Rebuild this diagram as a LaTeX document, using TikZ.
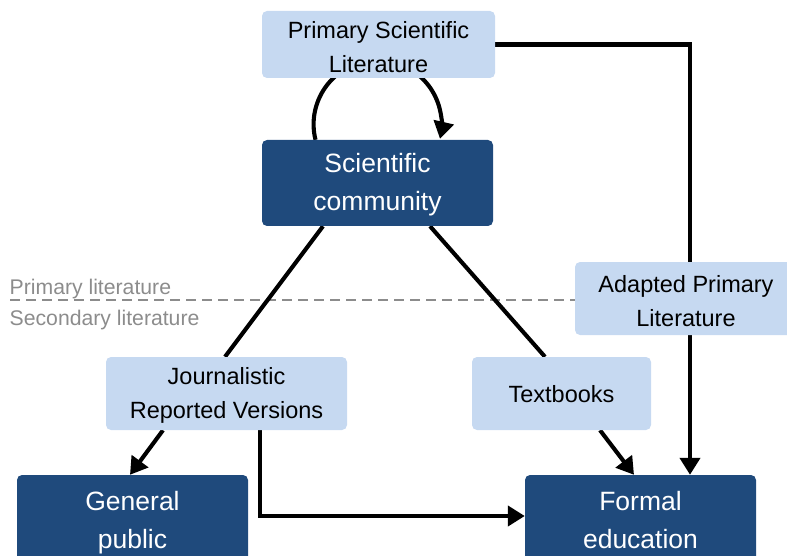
\documentclass[tikz,border=0pt]{standalone}
\usepackage{fontspec}
\setmainfont{Liberation Sans}
\usetikzlibrary{arrows.meta,backgrounds}
\definecolor{lightbox}{HTML}{C6D9F1}
\definecolor{darkbox}{HTML}{1F4A7C}
\definecolor{grayline}{HTML}{8C8C8C}
\newcommand{\topstrut}[1]{\rule{0pt}{#1pt}}
\tikzset{
  lightnode/.style={fill=lightbox, rounded corners=5pt, align=center, inner sep=0pt,
    font=\fontsize{23.5}{34}\selectfont, text=black},
  darknode/.style={fill=darkbox, rounded corners=5pt, align=center, inner sep=0pt,
    font=\fontsize{26.5}{38}\selectfont, text=white},
  conn/.style={line width=4.1pt, black},
  arr/.style={conn, -{Triangle[length=17pt,width=20pt]}},
  layerlabel/.style={text=grayline, anchor=west, inner sep=0pt, font=\fontsize{21.2}{25}\selectfont},
  divider/.style={grayline, line width=2.4pt, dash pattern=on 10pt off 6pt}
}
\begin{document}
\begin{tikzpicture}[x=1pt,y=-1pt]
\useasboundingbox (0,0) rectangle (787,556);
% boxes
\node[lightnode, minimum width=233pt, minimum height=67pt] (psl) at (378.5,44.5) {\topstrut{23.2}Primary Scientific\\Literature};
\node[darknode, minimum width=231pt, minimum height=86pt] (sc) at (377.5,183) {\topstrut{23.3}Scientific\\community};
\node[lightnode, minimum width=222pt, minimum height=73pt] (apl) at (686,298.5) {\topstrut{23.2}Adapted Primary\\Literature};
\node[lightnode, minimum width=241pt, minimum height=73pt] (jrv) at (226.5,393.5) {\topstrut{21.2}Journalistic\\Reported Versions};
\node[lightnode, minimum width=179pt, minimum height=73pt] (tb) at (561.5,393.5) {\topstrut{19.2}Textbooks};
\node[darknode, minimum width=231pt, minimum height=86pt] (gp) at (132.5,518) {\topstrut{29.3}General\\public};
\node[darknode, minimum width=231pt, minimum height=86pt] (fe) at (640.5,518) {\topstrut{23.3}Formal\\education};
% labels
\node[layerlabel] (plabel) at (9.5,289) {Primary literature};
\node[layerlabel] (slabel) at (9.5,320) {Secondary literature};
\coordinate (dstart) at (10,300);
% connectors
\begin{scope}[on background layer]
\draw[divider] (dstart) -- (apl.west |- dstart);
\draw[arr] (psl.east) -| ([xshift=49.5pt]fe.north);
\draw[arr] ([xshift=-62pt]sc.north) arc[start angle=166, end angle=373, radius=64];
\draw[conn] ([xshift=-54.5pt]sc.south) -- ([xshift=-1.5pt]jrv.north);
\draw[conn] ([xshift=52.5pt]sc.south) -- ([xshift=-16.5pt]tb.north);
\draw[arr] ([xshift=-63.5pt]jrv.south) -- ([xshift=-2.5pt]gp.north);
\draw[arr] ([xshift=33.5pt]jrv.south) |- ([yshift=2pt]fe.west);
\draw[arr] ([xshift=38.5pt]tb.south) -- ([xshift=-6.5pt]fe.north);
\end{scope}
\end{tikzpicture}
\end{document}
